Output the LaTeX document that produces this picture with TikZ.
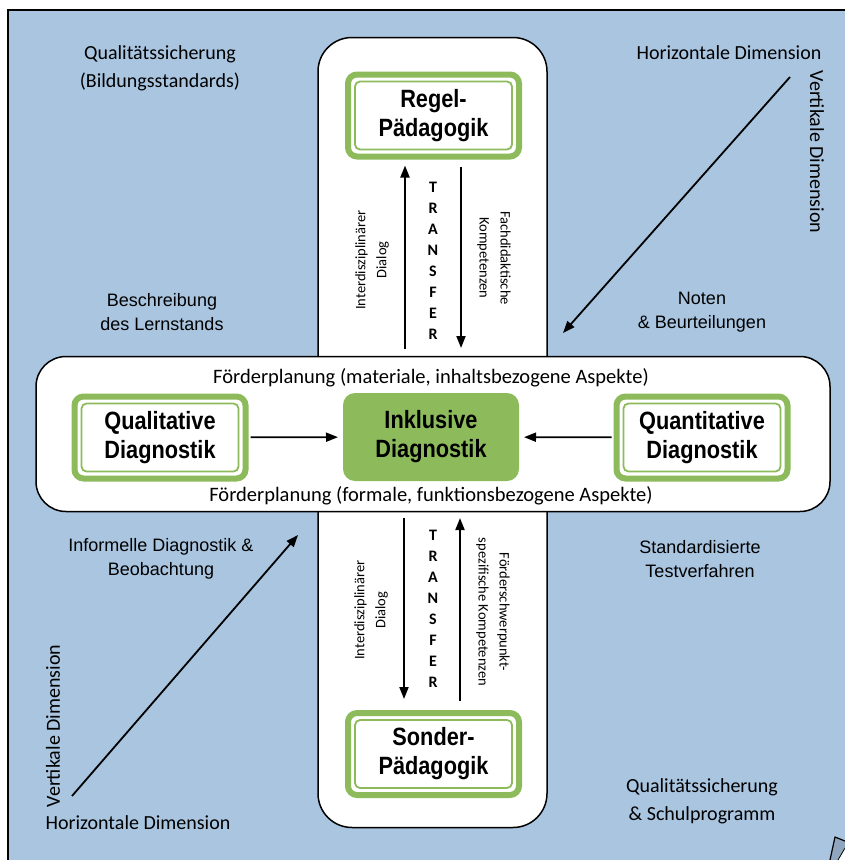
\documentclass[tikz,border=0pt]{standalone}
\usepackage{fontspec}
\setmainfont{Carlito}
\newfontfamily\arialf{Liberation Sans}
\newfontfamily\narrowf[FakeStretch=0.87]{Liberation Sans}
\usetikzlibrary{arrows.meta}
\definecolor{bgblue}{HTML}{A9C5E0}
\definecolor{gr}{HTML}{8DBB5C}
\definecolor{curlgray}{HTML}{8FA6BE}
\tikzset{
  cal/.style={font=\fontsize{20}{28}\selectfont, align=center, inner sep=0pt},
  fpl/.style={font=\fontsize{20.5}{24}\selectfont, align=center, inner sep=0pt},
  ari/.style={font=\arialf\fontsize{18}{24}\selectfont, align=center, inner sep=0pt},
  small/.style={font=\fontsize{14.5}{21}\selectfont, align=center, inner sep=0pt},
  trl/.style={font=\bfseries\fontsize{16}{21}\selectfont, inner sep=0pt},
  gbox/.style={draw=gr, line width=6pt, rounded corners=9pt, fill=white, outer sep=0pt,
    minimum width=171pt, minimum height=82pt, align=center,
    font=\narrowf\bfseries\fontsize{25}{29}\selectfont},
  innerline/.style={draw=gr, line width=1.8pt, rounded corners=5pt},
  ibox/.style={fill=gr, rounded corners=12pt, outer sep=0pt,
    minimum width=176pt, minimum height=88pt, align=center,
    font=\narrowf\bfseries\fontsize{25}{29}\selectfont},
  arr/.style={line width=1.8pt, -{Triangle[length=12pt,width=9pt]}},
  panel/.style={draw=black, line width=1.5pt, fill=white}
}
\begin{document}
\begin{tikzpicture}[x=1pt,y=-1pt]
\useasboundingbox (0,0) rectangle (845,860);
\fill[white] (0,0) rectangle (845,860);
\fill[bgblue] (8,10) rectangle (845,860);
\draw[line width=1.5pt] (8,860) -- (8,10) -- (845,10);

% panels
\node[panel, rounded corners=34pt, minimum width=229pt, minimum height=790pt] (vbox) at (432.5,432.5) {};
\node[panel, rounded corners=30pt, minimum width=794pt, minimum height=155pt] (hbox) at (433,434) {};

% boxes
\node[gbox] (regel) at (433.5,115.5) {Regel-\\Pädagogik};
\node[gbox] (sonder) at (433.5,754) {Sonder-\\Pädagogik};
\node[gbox] (qual) at (160,437.5) {Qualitative\\Diagnostik};
\node[gbox] (quant) at (702,437.5) {Quantitative\\Diagnostik};
\node[ibox] (inkl) at (431,437) {Inklusive\\Diagnostik};
\foreach \n in {regel,sonder,qual,quant}
  \draw[innerline] ([shift={(7pt,-7pt)}]\n.north west) rectangle ([shift={(-7pt,7pt)}]\n.south east);

% Förderplanung
\node[fpl] (fp1) at (431,378) {Förderplanung (materiale, inhaltsbezogene Aspekte)};
\node[fpl] (fp2) at (431,496) {Förderplanung (formale, funktionsbezogene Aspekte)};

% horizontal arrows
\draw[arr, shorten <=5pt, shorten >=5pt] (qual) -- (inkl);
\draw[arr, shorten <=5pt, shorten >=5pt] (quant) -- (inkl);

% vertical arrows top
\coordinate (t1a) at (405,349);
\coordinate (t2a) at (461,167);
\coordinate (t2b) at (461,348);
\draw[arr, shorten >=9pt] (t1a) -- (t1a |- regel.south);
\draw[arr] (t2a) -- (t2b);
% vertical arrows bottom
\coordinate (b1a) at (404,518);
\coordinate (b1b) at (404,699);
\coordinate (b2a) at (460,701);
\coordinate (b2b) at (460,518);
\draw[arr] (b1a) -- (b1b);
\draw[arr] (b2a) -- (b2b);

% TRANSFER
\foreach \l [count=\i from 0] in {T,R,A,N,S,F,E,R} {
  \node[trl] (ta\i) at (433,{187+21*\i}) {\l};
  \node[trl] (tb\i) at (433,{535+21*\i}) {\l};
}

% rotated labels
\node[small, rotate=90] (dlg1) at (372,260) {Interdisziplinärer\\Dialog};
\node[small, rotate=-90] (fdk) at (494,258) {Fachdidaktische\\Kompetenzen};
\node[small, rotate=90] (dlg2) at (371,610) {Interdisziplinärer\\Dialog};
\node[small, rotate=-90] (fsk) at (493,612) {Förderschwerpunkt-\\spezifische Kompetenzen};

% corner labels
\node[cal] (qs1) at (160,68) {Qualitätssicherung\\(Bildungsstandards)};
\node[cal] (hd1) at (729,53) {Horizontale Dimension};
\node[cal, rotate=-90] (vd1) at (817,152) {Vertikale Dimension};
\node[ari] (besch) at (162,312) {Beschreibung\\des Lernstands};
\node[ari] (noten) at (702,312) {Noten\\\& Beurteilungen};
\node[ari] (infd) at (161,559) {Informelle Diagnostik \&\\Beobachtung};
\node[ari] (stdt) at (700,559) {Standardisierte\\Testverfahren};
\node[cal, rotate=90] (vd2) at (53,726) {Vertikale Dimension};
\node[cal] (hd2) at (138,823) {Horizontale Dimension};
\node[cal] (qs2) at (702,801) {Qualitätssicherung\\\& Schulprogramm};

% diagonal arrows
\coordinate (d1s) at (790,77);
\coordinate (d1e) at (563,333);
\coordinate (d2s) at (72,796);
\coordinate (d2e) at (298,535);
\draw[arr] (d1s) -- (d1e);
\draw[arr] (d2s) -- (d2e);

% page curl
\fill[curlgray] (830,860) -- (835,837) -- (845,841) -- (845,848) -- (838,860) -- cycle;
\fill[white] (838,860) -- (845,848) -- (845,860) -- cycle;
\draw[line width=1.2pt, line join=round] (830,860) -- (835,837) -- (845,841);
\draw[line width=0.8pt] (838,860) -- (845,848);
\end{tikzpicture}
\end{document}
